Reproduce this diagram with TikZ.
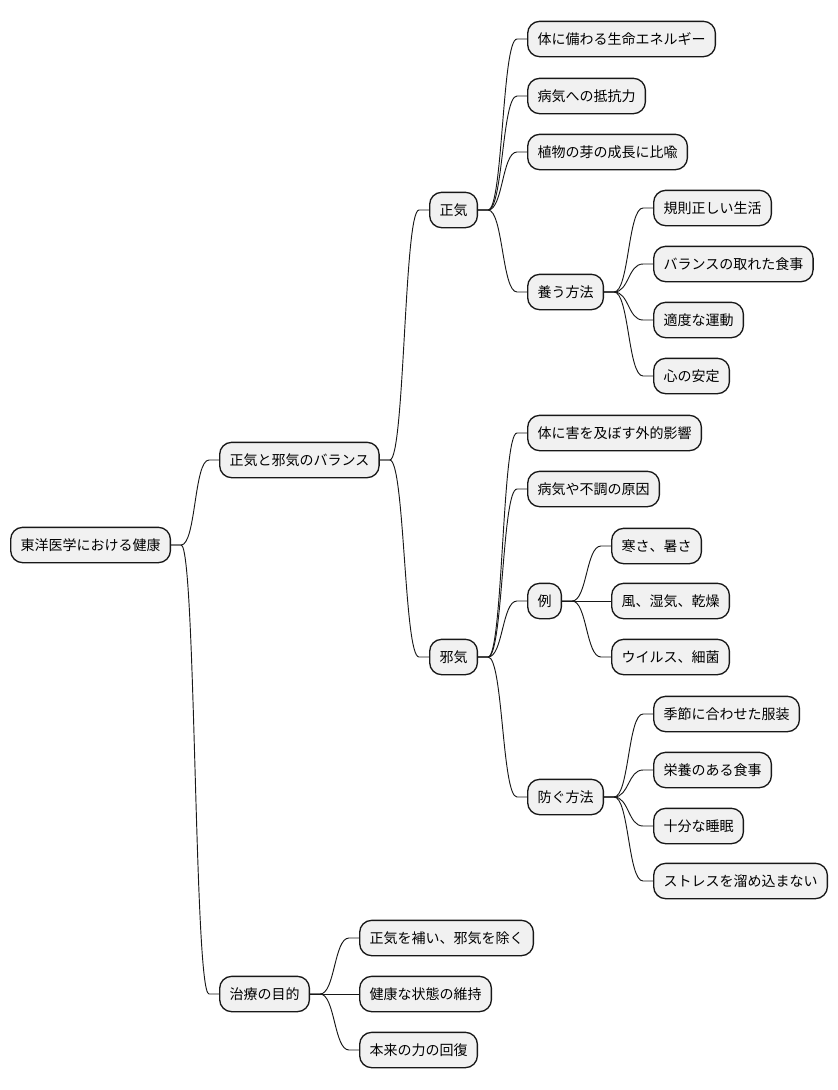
\documentclass[tikz,border=0pt]{standalone}
\usepackage{fontspec}
\setmainfont{Noto Sans CJK JP}
\usetikzlibrary{positioning}
\definecolor{boxfill}{HTML}{F1F1F1}
\definecolor{boxline}{HTML}{181818}

\begin{document}
\begin{tikzpicture}[
		x=0.75pt, y=-0.75pt,
		% style of the topic boxes
		topic/.style={
			fill=boxfill,
			draw=boxline,
			line width=1pt,
			rounded corners=9pt,
			font=\fontsize{10.5}{12}\selectfont,
			minimum height=26.5pt,
			inner xsep=7.4pt,
			anchor=west
		},
		% style of the branch lines
		branch/.style={
			draw=boxline,
			line width=0.7pt
		}
		]
		\useasboundingbox (0,0) rectangle (838,1090);
		
		% --- ROOT AND FIRST LEVEL ---
		\node[topic] (root) at (10,545) {東洋医学における健康};
		\node[topic] (balance) at (219,460) {正気と邪気のバランス};
		\node[topic] (cure) at (219,994) {治療の目的};
		
		% --- SECOND LEVEL ---
		\node[topic] (seiki) at (429,210) {正気};
		\node[topic] (jaki) at (429,657) {邪気};
		
		\node[topic] (cure1) at (359,938) {正気を補い、邪気を除く};
		\node[topic] (cure2) at (359,994) {健康な状態の維持};
		\node[topic] (cure3) at (359,1050) {本来の力の回復};
		
		% --- CHILDREN OF SEIKI ---
		\node[topic] (seiki1) at (527,39) {体に備わる生命エネルギー};
		\node[topic] (seiki2) at (527,96) {病気への抵抗力};
		\node[topic] (seiki3) at (527,152) {植物の芽の成長に比喩};
		\node[topic] (nourish) at (527,292) {養う方法};
		
		\node[topic] (nourish1) at (653,208) {規則正しい生活};
		\node[topic] (nourish2) at (653,264) {バランスの取れた食事};
		\node[topic] (nourish3) at (653,320) {適度な運動};
		\node[topic] (nourish4) at (653,376) {心の安定};
		
		% --- CHILDREN OF JAKI ---
		\node[topic] (jaki1) at (527,433) {体に害を及ぼす外的影響};
		\node[topic] (jaki2) at (527,489) {病気や不調の原因};
		\node[topic] (example) at (527,601) {例};
		\node[topic] (prevent) at (527,797) {防ぐ方法};
		
		\node[topic] (example1) at (611,546) {寒さ、暑さ};
		\node[topic] (example2) at (611,601) {風、湿気、乾燥};
		\node[topic] (example3) at (611,657) {ウイルス、細菌};
		
		\node[topic] (prevent1) at (653,714) {季節に合わせた服装};
		\node[topic] (prevent2) at (653,770) {栄養のある食事};
		\node[topic] (prevent3) at (653,826) {十分な睡眠};
		\node[topic] (prevent4) at (653,881) {ストレスを溜め込まない};
		
		% --- BRANCHES ---
		\foreach \p/\c in {root/balance, root/cure,
			balance/seiki, balance/jaki,
			cure/cure1, cure/cure2, cure/cure3,
			seiki/seiki1, seiki/seiki2, seiki/seiki3, seiki/nourish,
			nourish/nourish1, nourish/nourish2, nourish/nourish3, nourish/nourish4,
			jaki/jaki1, jaki/jaki2, jaki/example, jaki/prevent,
			example/example1, example/example2, example/example3,
			prevent/prevent1, prevent/prevent2, prevent/prevent3, prevent/prevent4}
		\draw[branch] (\p.east) -- ++(10,0) .. controls +(15,0) and +(-15,0) .. ([xshift=-7.5pt]\c.west) -- (\c.west);
		
	\end{tikzpicture}
\end{document}
